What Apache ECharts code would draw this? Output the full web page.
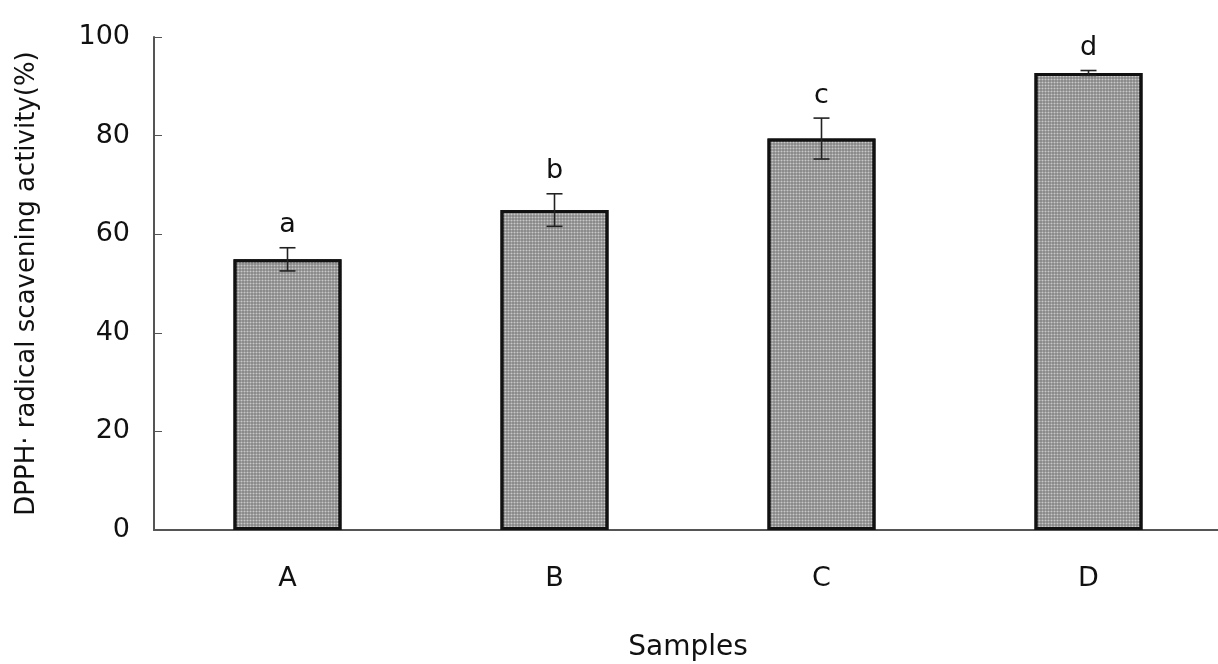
<!DOCTYPE html>
<html>
<head>
<meta charset="utf-8">
<script src="https://cdn.jsdelivr.net/npm/echarts@6/dist/echarts.min.js"></script>
<style>
 html,body{margin:0;padding:0;background:#fff;}
 #main{width:1218px;height:664px;}
</style>
</head>
<body>
<div id="main"></div>
<script>
var samples=['A','B','C','D'];
var activity=[54.9,64.9,79.4,92.7];
var sdev=[2.35,3.3,4.15,0.5];
var letters=['a','b','c','d'];
var yTicks=[0,20,40,60,80,100];

var myChart=echarts.init(document.getElementById('main'));

// error bar + significance letter, drawn through the axes
function renderErr(params,api){
  var i=api.value(0);
  var mean=api.value(1),err=api.value(2);
  var hi=api.coord([i,mean+err]);
  var lo=api.coord([i,mean-err]);
  var half=8;
  var st={stroke:'#222',lineWidth:1.6};
  return {
    type:'group',
    children:[
      {type:'line',shape:{x1:hi[0],y1:hi[1],x2:lo[0],y2:lo[1]},style:st},
      {type:'line',shape:{x1:hi[0]-half,y1:hi[1],x2:hi[0]+half,y2:hi[1]},style:st},
      {type:'line',shape:{x1:lo[0]-half,y1:lo[1],x2:lo[0]+half,y2:lo[1]},style:st},
      {type:'text',x:hi[0],y:hi[1]-9,style:{
        text:letters[i],fill:'#111',font:'27px "DejaVu Sans"',
        align:'center',verticalAlign:'bottom'}}
    ]
  };
}

var errData=samples.map(function(s,i){return [i,activity[i],sdev[i]];});

var option={
  animation:false,
  textStyle:{fontFamily:'DejaVu Sans'},
  grid:{left:154,top:37,width:1068,bottom:134,containLabel:false,outerBoundsMode:'none'},
  xAxis:{
    type:'category',
    data:samples,
    name:'Samples',
    nameLocation:'middle',
    nameGap:104,
    nameTextStyle:{fontSize:28,color:'#111'},
    axisLine:{lineStyle:{color:'#555',width:2}},
    axisTick:{inside:true,length:8,lineStyle:{color:'#555'}},
    axisLabel:{fontSize:27,color:'#111',margin:35}
  },
  yAxis:{
    type:'value',
    min:yTicks[0],max:yTicks[yTicks.length-1],interval:20,
    name:'DPPH· radical scavening activity(%)',
    nameLocation:'middle',
    nameGap:114,
    nameTextStyle:{fontSize:26,color:'#111'},
    axisLine:{show:true,lineStyle:{color:'#555',width:2}},
    axisTick:{show:true,inside:true,length:8,lineStyle:{color:'#555'}},
    axisLabel:{fontSize:27,color:'#111',margin:24},
    splitLine:{show:false}
  },
  series:[{
    type:'bar',
    data:activity,
    barWidth:108,
    itemStyle:{
      color:'#858585',
      borderColor:'#111',
      borderWidth:3,
      decal:{symbol:'circle',symbolSize:0.7,color:'rgba(255,255,255,0.55)',dashArrayX:[3,0],dashArrayY:[3,0]}
    }
  },{
    type:'custom',
    renderItem:renderErr,
    data:errData,
    z:5
  }]
};

myChart.setOption(option);
</script>
</body>
</html>
